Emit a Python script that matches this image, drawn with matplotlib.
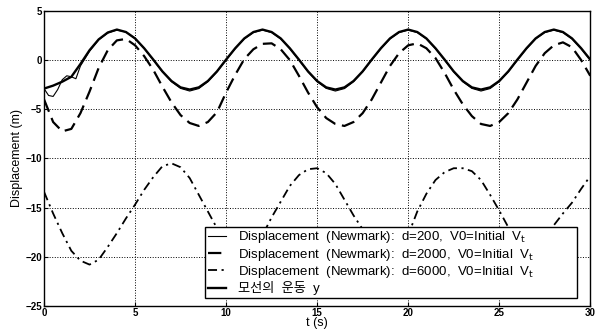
# Newmark displacement vs. ship motion (matplotlib recreation)

import numpy as np
import matplotlib.pyplot as plt

plt.rcParams['font.family'] = ['Liberation Sans', 'Noto Sans CJK KR', 'DejaVu Sans']

# time axes (s)
t = np.arange(0, 30.01, 0.5)
t_thin = np.concatenate([[0, 0.25, 0.5, 0.75, 1.0, 1.25, 1.5, 1.75, 2.0],
                         np.arange(2.5, 30.01, 0.5)])

# displacement (m)
disp_d200 = [-2.9, -3.6, -3.7, -3.0, -2.0, -1.6, -1.7, -1.9, -0.6,
             0.9, 2.05, 2.75, 3.05, 2.85, 2.2, 1.2, 0.0, -1.2, -2.2, -2.88, -3.15,
             -2.9, -2.2, -1.2, 0.0, 1.15, 2.15, 2.8, 3.05, 2.8, 2.15, 1.15, 0.0,
             -1.2, -2.2, -2.88, -3.15, -2.9, -2.2, -1.2, 0.0, 1.15, 2.15, 2.8, 3.05,
             2.8, 2.15, 1.15, 0.0, -1.2, -2.2, -2.88, -3.15, -2.9, -2.2, -1.2, 0.0,
             1.15, 2.15, 2.8, 3.05, 2.8, 2.15, 1.15, 0.0]

disp_d2000 = [-4.0, -6.3, -7.25, -7.0, -5.4, -3.2, -0.8, 1.0, 2.0, 2.15,
              1.5, 0.4, -1.0, -2.7, -4.3, -5.6, -6.4, -6.7, -6.3, -5.3,
              -3.3, -1.5, 0.1, 1.1, 1.65, 1.7, 1.1, 0.0, -1.6, -3.3,
              -4.8, -5.9, -6.5, -6.7, -6.3, -5.4, -4.0, -2.3, -0.6, 0.7,
              1.5, 1.7, 1.2, 0.2, -1.3, -3.0, -4.5, -5.7, -6.5, -6.7,
              -6.3, -5.4, -4.0, -2.3, -0.6, 0.7, 1.5, 1.8, 1.3, 0.0, -1.6]

disp_d6000 = [-13.4, -15.6, -17.6, -19.4, -20.4, -20.8, -20.3, -19.0, -17.6, -16.1,
              -14.7, -13.2, -11.9, -10.8, -10.5, -10.9, -12.0, -13.7, -15.4, -17.1,
              -18.3, -19.0, -19.2, -18.8, -17.8, -16.0, -14.4, -12.8, -11.7, -11.1,
              -11.0, -11.5, -12.6, -14.2, -15.8, -17.2, -18.4, -19.1, -19.3, -19.0,
              -17.8, -15.4, -13.6, -12.2, -11.4, -11.0, -11.0, -11.3, -12.2, -13.7,
              -15.3, -17.0, -18.3, -19.1, -19.3, -18.9, -16.8, -15.6, -14.5, -13.1, -11.8]

ship_y = [-2.9, -2.6, -2.2, -1.7, -0.4, 1.0, 2.1, 2.8, 3.1,
          2.85, 2.2, 1.2, 0.05, -1.15, -2.13, -2.78, -3.0,
          -2.78, -2.13, -1.15, 0.05, 1.2, 2.2, 2.85, 3.1,
          2.85, 2.2, 1.2, 0.05, -1.15, -2.13, -2.78, -3.0,
          -2.78, -2.13, -1.15, 0.05, 1.2, 2.2, 2.85, 3.1,
          2.85, 2.2, 1.2, 0.05, -1.15, -2.13, -2.78, -3.0,
          -2.78, -2.13, -1.15, 0.05, 1.2, 2.2, 2.85, 3.1,
          2.85, 2.2, 1.2, 0.05]

labels = [r'Displacement  (Newmark):  d=200,  V0=Initial  V$_\mathrm{t}$',
          r'Displacement  (Newmark):  d=2000,  V0=Initial  V$_\mathrm{t}$',
          r'Displacement  (Newmark):  d=6000,  V0=Initial  V$_\mathrm{t}$',
          '모선의  운동  y']

fig = plt.figure(figsize=(5.95, 3.3), dpi=100)
ax = fig.add_axes([0.074, 0.073, 0.918, 0.894])

ax.plot(t_thin, disp_d200, color='k', lw=0.8, label=labels[0])
ax.plot(t, disp_d2000, color='k', lw=1.6, dashes=(6, 3), label=labels[1])
ax.plot(t, disp_d6000, color='k', lw=1.3, dashes=(5, 2.5, 1.2, 2.5), label=labels[2])
ax.plot(t, ship_y, color='k', lw=1.7, label=labels[3])

ax.set_xlim(0, 30)
ax.set_ylim(-25, 5)
ax.set_xticks(range(0, 31, 5))
ax.set_yticks(range(-25, 6, 5))
ax.tick_params(direction='in', labelsize=7, length=3, pad=1.5)
for lab in ax.get_xticklabels() + ax.get_yticklabels():
    lab.set_fontweight('bold')
ax.grid(True, color='k', linestyle=':', linewidth=0.7)
for s in ax.spines.values():
    s.set_linewidth(1.0)

ax.set_xlabel('t (s)', fontsize=9)
ax.xaxis.set_label_coords(0.5, -0.037)
ax.set_ylabel('Displacement (m)', fontsize=9, labelpad=2)

leg = ax.legend(loc='lower left', bbox_to_anchor=(0.295, 0.027, 0.681, 0.236),
                mode='expand', fontsize=9.5, handlelength=1.4, handletextpad=0.9,
                borderpad=0.2, labelspacing=0.1, fancybox=False, framealpha=1,
                borderaxespad=0)
leg.get_frame().set_edgecolor('k')
leg.get_frame().set_linewidth(1.0)

fig.savefig('out.png', dpi=100)
